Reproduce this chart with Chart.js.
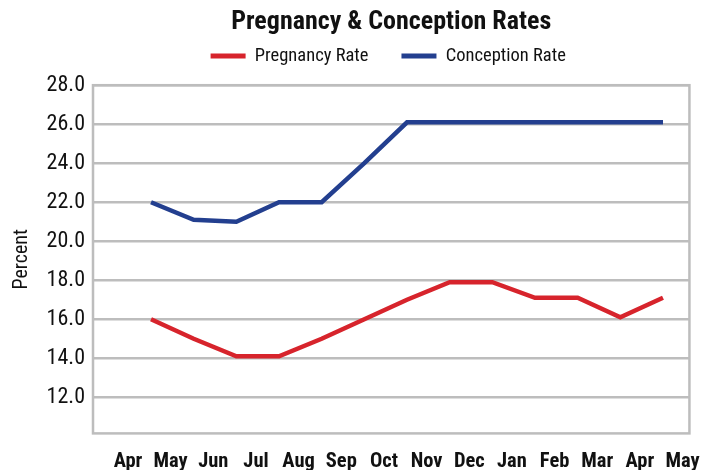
<!DOCTYPE html>
<html>
<head>
<meta charset="utf-8">
<script src="https://cdn.jsdelivr.net/npm/chart.js@4.4.1/dist/chart.umd.min.js"></script>
<style>
  html, body { margin: 0; padding: 0; background: #ffffff; }
  #wrap { width: 716px; height: 470px; }
</style>
</head>
<body>
<div id="wrap"><canvas id="c" width="716" height="470"></canvas></div>
<script>
const monthLabels = ['Apr','May','Jun','Jul','Aug','Sep','Oct','Nov','Dec','Jan','Feb','Mar','Apr','May'];
const pregnancyRate = [16.0, 15.0, 14.1, 14.1, 15.0, 16.0, 17.0, 17.9, 17.9, 17.1, 17.1, 16.1, 17.1];
const conceptionRate = [22.0, 21.1, 21.0, 22.0, 22.0, 24.0, 26.1, 26.1, 26.1, 26.1, 26.1, 26.1, 26.1];
const yTicks = [12, 14, 16, 18, 20, 22, 24, 26, 28];

const FONT = "'Liberation Sans Narrow', 'Roboto Condensed', 'DejaVu Sans Condensed', Roboto, sans-serif";
const RED = '#D7242C';
const BLUE = '#233F8F';
const GRID = '#BDBDBD';
const POINT_SHIFT = 0.54; // points sit between month labels
const LEGEND_EXTRA_BOTTOM = 10;
const LEGEND_SHIFT_X = -3;

const toPoints = arr => arr.map((v, i) => ({ x: i + POINT_SHIFT, y: v }));

const frame = {
  id: 'frame',
  beforeLayout(chart) {
    const lg = chart.legend;
    if (lg && !lg._extraPatched) {
      const origFit = lg.fit.bind(lg);
      lg.fit = function () { origFit(); this.height += LEGEND_EXTRA_BOTTOM; };
      const origDraw = lg.draw.bind(lg);
      lg.draw = function () {
        const ctx = this.ctx;
        ctx.save();
        ctx.translate(LEGEND_SHIFT_X, 0);
        origDraw();
        ctx.restore();
      };
      lg._extraPatched = true;
    }
  },
  beforeDatasetsDraw(chart) {
    const { ctx, chartArea: a } = chart;
    ctx.save();
    ctx.strokeStyle = GRID;
    ctx.lineWidth = 2.5;
    ctx.strokeRect(a.left, a.top, a.right - a.left, a.bottom - a.top);
    ctx.restore();
  }
};

new Chart(document.getElementById('c'), {
  type: 'line',
  data: {
    datasets: [
      { label: 'Pregnancy Rate', data: toPoints(pregnancyRate), borderColor: RED, backgroundColor: RED,
        borderWidth: 4.5, pointRadius: 0, tension: 0, fill: false },
      { label: 'Conception Rate', data: toPoints(conceptionRate), borderColor: BLUE, backgroundColor: BLUE,
        borderWidth: 4.5, pointRadius: 0, tension: 0, fill: false }
    ]
  },
  options: {
    responsive: false,
    animation: false,
    layout: { padding: { left: 0, right: 26, top: 4, bottom: -20 } },
    plugins: {
      tooltip: { enabled: false },
      title: {
        display: true,
        fullSize: false,
        text: 'Pregnancy & Conception Rates',
        color: '#111111',
        font: { family: FONT, size: 26, weight: 'bold' },
        padding: { top: 3, bottom: -24.5 }
      },
      legend: {
        display: true,
        fullSize: false,
        labels: {
          color: '#111111',
          font: { family: FONT, size: 18.5 },
          boxWidth: 35,
          boxHeight: 5,
          padding: 33,
          generateLabels(chart) {
            return Chart.defaults.plugins.legend.labels.generateLabels(chart)
              .map(l => Object.assign(l, { lineWidth: 0, fillStyle: l.strokeStyle }));
          }
        }
      }
    },
    scales: {
      x: {
        type: 'linear',
        min: -0.82,
        max: 13.16,
        afterBuildTicks(axis) { axis.ticks = monthLabels.map((_, i) => ({ value: i })); },
        ticks: {
          autoSkip: false,
          maxRotation: 0,
          color: '#111111',
          font: { family: FONT, size: 20.5, weight: 'bold' },
          padding: 16,
          callback: (v) => monthLabels[v]
        },
        grid: { display: false, drawTicks: false },
        border: { display: false }
      },
      y: {
        min: 10.15,
        max: 28,
        afterBuildTicks(axis) { axis.ticks = yTicks.map(v => ({ value: v })); },
        afterFit(scale) { scale.width = 93; },
        ticks: {
          color: '#111111',
          font: { family: FONT, size: 22 },
          padding: 8,
          callback: (v) => Number(v).toFixed(1)
        },
        grid: { color: GRID, lineWidth: 2.5, drawTicks: false },
        border: { display: false },
        title: {
          display: true,
          text: 'Percent',
          color: '#111111',
          font: { family: FONT, size: 20 },
          padding: { top: 10, bottom: 0 }
        }
      }
    }
  },
  plugins: [frame]
});
</script>
</body>
</html>
